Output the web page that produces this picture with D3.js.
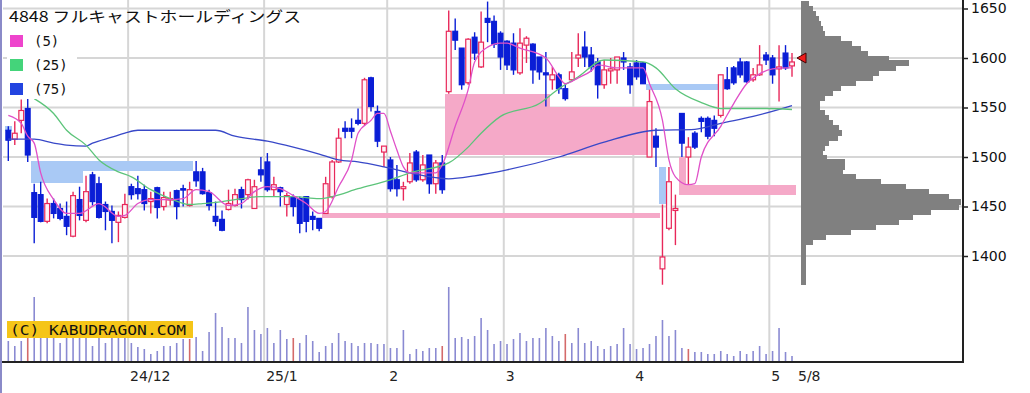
<!DOCTYPE html>
<html>
<head>
<meta charset="utf-8">
<script src="https://cdn.jsdelivr.net/npm/d3@7"></script>
<style>
  body { margin: 0; background: #fff; }
  svg { display: block; }
</style>
</head>
<body>
<svg id="chart" width="1030" height="393"></svg>
<script>
// 4848 daily candles, Nov 2024 - May 8 2025
const title = '4848 フルキャストホールディングス';

const open = [1527,1518,1537,1549,1464,1462,1435,1453,1448,1440,1420,1457,1436,1482,1473,1452,1445,1434,1439,1470,
  1468,1467,1455,1469,1450,1457,1466,1468,1451,1485,1485,1464,1440,1437,1447,1451,1467,1462,1448,1487,
  1495,1467,1469,1452,1460,1458,1460,1440,1438,1443,1460,1495,1529,1529,1537,1534,1580,1546,1505,1497,
  1477,1468,1475,1505,1477,1502,1473,1494,1566,1627,1610,1575,1621,1591,1640,1637,1625,1617,1615,1585,
  1613,1614,1601,1585,1578,1583,1569,1578,1600,1611,1603,1596,1573,1587,1588,1600,1591,1595,1595,1500,
  1521,1387,1428,1446,1544,1500,1524,1539,1539,1537,1542,1578,1590,1596,1596,1578,1583,1603,1600,1589,
  1605,1592];
const high = [1531,1536,1558,1559,1473,1475,1458,1458,1453,1455,1465,1470,1481,1485,1480,1455,1451,1445,1463,1473,
  1481,1472,1465,1470,1465,1465,1467,1472,1475,1496,1489,1467,1455,1446,1467,1468,1470,1478,1477,1500,
  1504,1480,1470,1464,1462,1460,1460,1445,1438,1480,1497,1529,1536,1539,1549,1580,1581,1552,1511,1500,
  1492,1475,1504,1507,1502,1502,1497,1502,1648,1640,1610,1620,1626,1647,1657,1643,1627,1618,1625,1630,
  1622,1615,1601,1606,1591,1585,1573,1606,1625,1627,1611,1600,1598,1600,1601,1606,1595,1598,1596,1568,
  1529,1452,1490,1462,1544,1520,1526,1541,1541,1542,1583,1591,1592,1600,1597,1590,1613,1606,1603,1613,
  1613,1605];
const low = [1496,1512,1524,1495,1413,1434,1433,1438,1436,1421,1419,1436,1434,1451,1438,1426,1413,1414,1438,1457,
  1457,1446,1443,1438,1446,1451,1437,1450,1450,1470,1462,1446,1430,1425,1446,1450,1448,1457,1448,1475,
  1465,1460,1450,1440,1440,1423,1424,1426,1425,1443,1458,1494,1519,1519,1532,1532,1546,1510,1490,1465,
  1460,1456,1473,1475,1475,1463,1463,1463,1564,1608,1568,1573,1598,1590,1616,1610,1588,1588,1583,1583,
  1595,1574,1578,1551,1568,1564,1557,1576,1591,1591,1586,1559,1569,1574,1574,1588,1564,1578,1574,1500,
  1490,1371,1426,1411,1500,1472,1508,1525,1518,1521,1540,1568,1573,1580,1575,1576,1582,1593,1574,1556,
  1588,1581];
const close = [1517,1524,1547,1502,1439,1435,1453,1443,1438,1430,1461,1441,1465,1455,1439,1445,1436,1441,1452,1462,
  1463,1453,1458,1449,1459,1458,1450,1467,1467,1476,1463,1451,1435,1426,1453,1462,1457,1477,1470,1482,
  1467,1472,1465,1461,1450,1433,1435,1437,1428,1473,1495,1519,1526,1526,1534,1578,1551,1516,1511,1468,
  1468,1470,1494,1477,1492,1473,1494,1467,1627,1618,1573,1619,1605,1616,1636,1614,1601,1593,1588,1615,
  1620,1588,1586,1583,1583,1569,1559,1586,1603,1601,1591,1573,1588,1589,1601,1596,1573,1581,1574,1556,
  1510,1399,1475,1448,1514,1510,1510,1536,1521,1529,1583,1569,1575,1583,1576,1583,1593,1598,1583,1591,
  1590,1596];
const volume = [21,16,21,28,65,27,26,30,19,28,27,29,26,16,28,19,27,29,26,19,
  15,13,8,11,16,16,19,23,23,25,11,30,49,35,24,24,19,55,32,28,
  34,19,32,23,24,19,27,21,10,16,19,29,21,19,16,19,19,18,18,14,
  14,32,8,13,11,14,14,16,75,24,25,23,26,44,32,18,21,18,23,29,
  21,24,24,34,26,21,28,19,34,19,21,16,13,16,18,34,18,13,14,18,
  26,42,26,32,14,13,10,10,8,8,11,8,6,11,8,11,16,8,11,34,
  10,6];
const redVolumeDays = [3, 28, 44, 67, 86, 105];

// moving averages as [day, price] samples
const ma5 = [[0,1542],[2,1534],[3,1521],[4,1514],[5,1484],[7,1457],[9,1443],[11,1443],[14,1453],[17,1440],
  [18,1441],[20,1453],[22,1457],[25,1457],[27,1458],[29,1467],[31,1465],[34,1451],[36,1453],[38,1465],
  [40,1470],[42,1468],[44,1461],[46,1453],[48,1443],[49,1445],[51,1470],[53,1497],[54,1524],[56,1537],
  [57,1544],[58,1544],[59,1526],[60,1507],[61,1490],[62,1484],[64,1484],[66,1484],[67,1492],[69,1531],
  [71,1568],[72,1596],[74,1611],[76,1615],[77,1615],[79,1610],[83,1600],[85,1581],[86,1574],[88,1580],
  [90,1587],[91,1593],[94,1590],[98,1590],[99,1574],[101,1537],[102,1497],[103,1480],[105,1472],[106,1473],
  [107,1500],[110,1531],[112,1554],[114,1574],[116,1584],[118,1589],[120,1590],[121,1590]];
const ma25 = [[4,1559],[7,1544],[9,1527],[12,1512],[14,1497],[17,1485],[19,1480],[22,1467],[25,1458],[28,1452],
  [30,1453],[33,1455],[39,1460],[44,1460],[48,1458],[50,1460],[54,1468],[59,1477],[62,1484],[68,1494],
  [71,1510],[73,1524],[76,1541],[82,1554],[85,1569],[88,1581],[92,1598],[98,1596],[100,1590],[103,1569],
  [107,1555],[110,1549],[117,1549],[121,1548]];
const ma75 = [[0,1518],[4,1518],[7,1514],[9,1512],[12,1511],[13,1514],[16,1520],[18,1524],[20,1527],[29,1527],
  [32,1527],[35,1521],[40,1516],[44,1510],[48,1503],[51,1497],[54,1495],[58,1490],[62,1484],[68,1478],
  [72,1481],[77,1487],[85,1500],[92,1515],[100,1527],[106,1528],[110,1534],[115,1541],[121,1552]];

// open price gaps: first day, last day, low, high, up/down
const gaps = [
  { from: 0, to: 0, lo: 1526, hi: 1531, up: false },
  { from: 4, to: 11, lo: 1474, hi: 1496, up: false },
  { from: 12, to: 28, lo: 1486, hi: 1496, up: false },
  { from: 49, to: 100, lo: 1438, hi: 1443, up: true },
  { from: 68, to: 83, lo: 1502, hi: 1564, up: true },
  { from: 84, to: 98, lo: 1502, hi: 1551, up: true },
  { from: 99, to: 109, lo: 1568, hi: 1574, up: false },
  { from: 101, to: 101, lo: 1453, hi: 1490, up: false },
  { from: 104, to: 104, lo: 1462, hi: 1500, up: true },
  { from: 105, to: 121, lo: 1462, hi: 1472, up: true }
];

// volume-at-price profile (relative units)
const profilePrices = [1655,1650,1645,1640,1635,1630,1625,1620,1615,1610,1605,1600,1595,1590,1585,1580,1575,1570,1565,1560,
  1555,1550,1545,1540,1535,1530,1525,1520,1515,1510,1505,1500,1495,1490,1485,1480,1475,1470,1465,1460,
  1455,1450,1445,1440,1435,1430,1425,1420,1415,1410];
const profileVolume = [8,12,15,18,20,22,24,40,51,60,67,88,108,95,78,72,55,40,32,24,
  19,19,24,28,32,38,41,37,28,24,22,26,44,44,42,55,80,105,128,148,
  160,158,130,112,98,75,50,25,12,5];

const priceTicks = [1400, 1450, 1500, 1550, 1600, 1650];
const monthTicks = [
  { day: 19, label: '24/12' }, { day: 40, label: '25/1' }, { day: 59, label: '2' },
  { day: 77, label: '3' }, { day: 97, label: '4' }, { day: 118, label: '5' }
];
const lastLabel = '5/8';
const markPrice = 1600;
const legend = [
  { label: '(5)', color: '#ee44cc' },
  { label: '(25)', color: '#44d47a' },
  { label: '(75)', color: '#2244e0' }
];

// ---- layout
const svg = d3.select('#chart');
const axisX = 963, baseY = 362, profX = 801;

const x = d3.scaleLinear().domain([0, close.length - 1]).range([8.3, 792]);
const half = (x(1) - x(0)) / 2;
const y = d3.scaleLinear().domain([1400, 1650]).range([256, 8.5]);
const yVol = d3.scaleLinear().domain([0, 75]).range([baseY, 287]);
const pw = d3.scaleLinear().domain([0, 160]).range([0, 160]);

// grid
const grid = svg.append('g');
grid.selectAll('line.h').data(priceTicks).enter().append('line')
  .attr('x1', 3).attr('x2', axisX)
  .attr('y1', d => y(d)).attr('y2', d => y(d))
  .attr('stroke', '#d6d6d6').attr('stroke-width', 2);
grid.selectAll('line.v').data(monthTicks).enter().append('line')
  .attr('x1', d => x(d.day) - half).attr('x2', d => x(d.day) - half)
  .attr('y1', 0).attr('y2', baseY)
  .attr('stroke', '#d6d6d6').attr('stroke-width', 2);

// gap boxes
svg.append('g').attr('shape-rendering', 'crispEdges')
  .selectAll('rect').data(gaps).enter().append('rect')
  .attr('x', d => x(d.from) - half)
  .attr('width', d => x(d.to) - x(d.from) + 2 * half + 0.5)
  .attr('y', d => y(d.hi))
  .attr('height', d => y(d.lo) - y(d.hi))
  .attr('fill', d => d.up ? '#f5a9c8' : '#a9c9f5');

// volume profile
const prof = svg.append('g').attr('shape-rendering', 'crispEdges');
prof.selectAll('rect').data(profilePrices).enter().append('rect')
  .attr('x', profX)
  .attr('y', d => y(d + 2.5))
  .attr('width', (d, i) => pw(profileVolume[i]))
  .attr('height', d => y(d - 2.5) - y(d + 2.5) + 1)
  .attr('fill', '#808080');
prof.append('rect')
  .attr('x', profX).attr('width', 5)
  .attr('y', y(d3.max(high))).attr('height', y(d3.min(low)) - y(d3.max(high)))
  .attr('fill', '#808080');

// volume bars
svg.append('g').selectAll('line').data(volume).enter().append('line')
  .attr('x1', (d, i) => x(i)).attr('x2', (d, i) => x(i))
  .attr('y1', baseY).attr('y2', d => yVol(d))
  .attr('stroke', (d, i) => redVolumeDays.includes(i) ? '#d46a6a' : '#8a8ad2')
  .attr('stroke-width', 1.6);

// candles
const days = d3.range(close.length);
const candle = svg.append('g').selectAll('g').data(days).enter().append('g');
const colorOf = i => close[i] >= open[i] ? '#e8285a' : '#0a1ed6';
candle.append('line')
  .attr('x1', i => x(i)).attr('x2', i => x(i))
  .attr('y1', i => y(high[i])).attr('y2', i => y(low[i]))
  .attr('stroke', colorOf).attr('stroke-width', 1.4);
candle.append('rect')
  .attr('x', i => x(i) - 2.4).attr('width', 4.8)
  .attr('y', i => y(Math.max(open[i], close[i])))
  .attr('height', i => Math.max(1.4, Math.abs(y(open[i]) - y(close[i]))))
  .attr('fill', i => close[i] >= open[i] ? '#fff4f8' : '#0a1ed6')
  .attr('stroke', colorOf).attr('stroke-width', 1.2);

// moving averages
const line = d3.line().x(d => x(d[0])).y(d => y(d[1])).curve(d3.curveMonotoneX);
[[ma75, '#3848c8'], [ma25, '#5cc47a'], [ma5, '#e050c8']].forEach(([data, c]) => {
  svg.append('path').datum(data)
    .attr('d', line).attr('fill', 'none')
    .attr('stroke', c).attr('stroke-width', 1.3);
});

// copyright badge
svg.append('rect').attr('x', 7).attr('y', 321).attr('width', 186).attr('height', 17).attr('fill', '#f5c518');
svg.append('text').attr('x', 10).attr('y', 334.5)
  .attr('font-family', 'DejaVu Sans Mono').attr('font-size', 14)
  .attr('textLength', 176).attr('lengthAdjust', 'spacingAndGlyphs')
  .attr('fill', '#111').text('(C) KABUDRAGON.COM');

// title + legend
svg.append('text').attr('x', 9).attr('y', 22)
  .attr('font-family', 'Noto Sans CJK JP').attr('font-size', 15)
  .attr('textLength', 292).attr('lengthAdjust', 'spacingAndGlyphs')
  .attr('fill', '#111').text(title);
const leg = svg.append('g').selectAll('g').data(legend).enter().append('g')
  .attr('transform', (d, i) => `translate(0,${35 + i * 24})`);
leg.append('rect').attr('x', 7).attr('y', -4).attr('width', 70).attr('height', 20).attr('fill', '#fff');
leg.append('rect').attr('x', 10).attr('y', 0).attr('width', 13).attr('height', 12).attr('fill', d => d.color);
leg.append('text').attr('x', 34).attr('y', 11)
  .attr('font-family', 'DejaVu Sans Mono').attr('font-size', 14)
  .attr('fill', '#111').text(d => d.label);

// frame
svg.append('line').attr('x1', 1).attr('x2', 1).attr('y1', 0).attr('y2', 393)
  .attr('stroke', '#8a8ac8').attr('stroke-width', 2);
svg.append('line').attr('x1', 2).attr('x2', axisX + 1).attr('y1', baseY).attr('y2', baseY)
  .attr('stroke', '#222').attr('stroke-width', 2);

// price axis
const yAxis = svg.append('g').attr('transform', `translate(${axisX},0)`)
  .call(d3.axisRight(y).tickValues(priceTicks).tickSize(5).tickPadding(3).tickFormat(d3.format('d')));
yAxis.select('.domain').remove();
yAxis.selectAll('.tick line').attr('stroke', '#222').attr('stroke-width', 1.5);
yAxis.selectAll('.tick text').attr('font-family', 'DejaVu Sans').attr('font-size', 14).attr('fill', '#111');
svg.append('line').attr('x1', axisX).attr('x2', axisX).attr('y1', 0).attr('y2', baseY + 1)
  .attr('stroke', '#222').attr('stroke-width', 2);

// date labels
svg.append('g').selectAll('text').data(monthTicks).enter().append('text')
  .attr('x', d => x(d.day) - half + 2).attr('y', 381)
  .attr('font-family', 'DejaVu Sans').attr('font-size', 14).attr('fill', '#222')
  .text(d => d.label);
svg.append('text').attr('x', x(close.length - 1) + 6).attr('y', 381)
  .attr('font-family', 'DejaVu Sans').attr('font-size', 14).attr('fill', '#222')
  .text(lastLabel);

// last price marker
const my = y(markPrice);
svg.append('path')
  .attr('d', `M${profX - 4},${my} L${profX + 5},${my - 5} L${profX + 5},${my + 5} Z`)
  .attr('fill', '#f01c1c').attr('stroke', '#400').attr('stroke-width', 1);
</script>
</body>
</html>
